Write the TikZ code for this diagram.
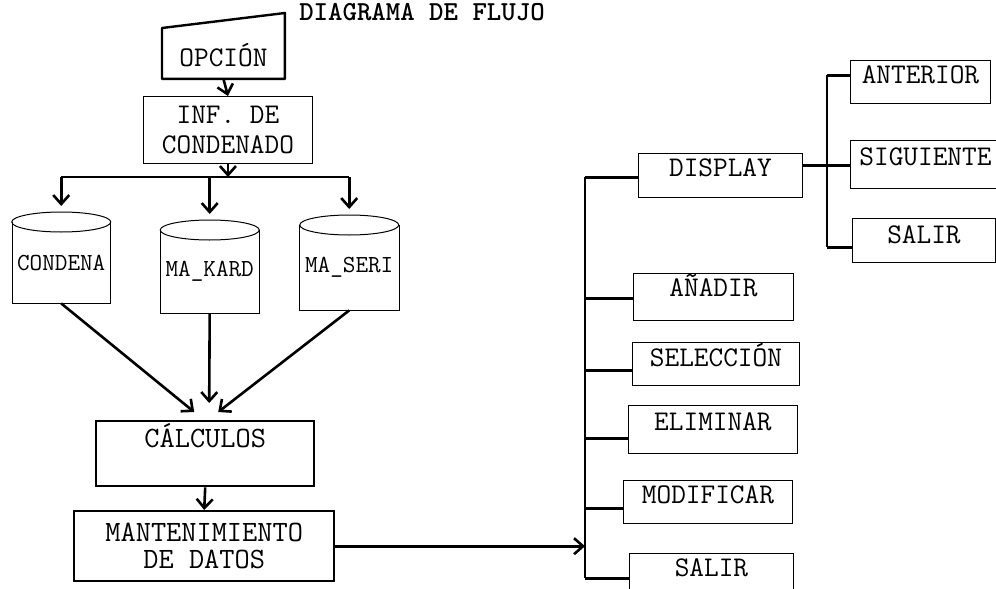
\documentclass[tikz,border=0pt]{standalone}
\usetikzlibrary{arrows.meta}

\begin{document}
\begin{tikzpicture}[x=1pt,y=-1pt,
  box/.style={draw,inner sep=0pt,line width=0.9pt,font=\fontsize{28.5}{30}\selectfont\ttfamily},
  thickbox/.style={box,line width=2.4pt,font=\fontsize{29.5}{27}\selectfont\ttfamily},
  db/.style={inner sep=0pt,font=\fontsize{24.5}{28}\selectfont\ttfamily},
  link/.style={line width=2.6pt},
  arr/.style={link,-{Straight Barb[length=9pt,width=16pt]}}]
\useasboundingbox (0,0) rectangle (996,589);
\node[font=\fontsize{27.5}{30}\selectfont\ttfamily\bfseries,anchor=base] (title) at (422,20) {DIAGRAMA DE FLUJO};
% entrada y lectura
\node[box,draw=none,minimum width=122pt,text height=38pt,text depth=12pt,anchor=north west] (opcion) at (162,28) {OPCIÓN};
\draw[line width=2.4pt,line join=round] (opcion.south west) -- (opcion.north west) -- ([yshift=15pt]opcion.north east) -- (opcion.south east) -- cycle;
\node[box,minimum width=169pt,minimum height=67pt,align=center,anchor=north west] (inf) at (143,96) {INF. DE\\CONDENADO};
\draw[arr] (opcion.south) -- (inf.north);
% archivos
\node[db,minimum width=98pt,minimum height=81pt,anchor=north west] (condena) at (12,222) {CONDENA};
\node[db,minimum width=99pt,minimum height=83pt,anchor=north west] (kard) at (160,230) {MA\_KARD};
\node[db,minimum width=100pt,minimum height=85pt,anchor=north west] (seri) at (299,225) {MA\_SERI};
\foreach \c in {condena,kard,seri}{
  \draw[line width=1pt] (\c.north west) -- (\c.south west) -- (\c.south east) -- (\c.north east);
  \draw[line width=1pt] (\c.north) ellipse [x radius=49.5pt,y radius=10pt];}
\coordinate (bl) at (61,177); \coordinate (br) at (349,177);
\draw[link] (bl) -- (br);
\draw[arr] (inf.south) -- (inf.south |- bl);
\foreach \c in {condena,kard,seri}{\draw[arr] (\c.north |- bl) -- ([yshift=16pt]\c.north);}
% proceso
\node[thickbox,minimum width=218pt,text height=26pt,text depth=39pt,anchor=north west] (calc) at (95,420) {CÁLCULOS};
\draw[arr] (condena.south) -- ([xshift=-11pt,yshift=8pt]calc.north);
\draw[arr] (kard.south) -- ([xshift=4pt,yshift=17pt]calc.north);
\draw[arr] (seri.south) -- ([xshift=13pt,yshift=8pt]calc.north);
\node[thickbox,minimum width=260pt,minimum height=70pt,align=center,anchor=north west] (mant) at (73,510) {MANTENIMIENTO\\DE DATOS};
\draw[arr] (calc.south) -- (mant.north);
% menu
\node[box,minimum width=164pt,text height=23pt,text depth=21pt,anchor=north west] (display) at (638,153) {DISPLAY};
\node[box,minimum width=160pt,text height=23pt,text depth=24pt,anchor=north west] (anadir) at (633,273) {AÑADIR};
\node[box,minimum width=167pt,text height=24pt,text depth=19pt,anchor=north west] (seleccion) at (632,342) {SELECCIÓN};
\node[box,minimum width=169pt,text height=25pt,text depth=23pt,anchor=north west] (eliminar) at (628,405) {ELIMINAR};
\node[box,minimum width=169pt,text height=23pt,text depth=20pt,anchor=north west] (modificar) at (623,480) {MODIFICAR};
\node[box,minimum width=164pt,text height=23pt,text depth=24pt,anchor=north west] (salir) at (629,553) {SALIR};
\coordinate (lt) at (585,177); \coordinate (lb) at (585,578);
\draw[link] (lt) -- (lb);
\draw[arr] (mant.east) -- (mant.east -| lt);
\foreach \n/\d in {display/-2,anadir/-1.5,seleccion/-6.5,eliminar/-9,modificar/-6.5,salir/-1.5}{
  \draw[link] ([yshift=\d pt]\n.west) coordinate (tmp) -- (tmp -| lt);}
% submenu display
\node[box,minimum width=140pt,text height=23pt,text depth=20pt,anchor=north west] (anterior) at (850,60) {ANTERIOR};
\node[box,minimum width=150pt,text height=25pt,text depth=23pt,anchor=north west] (siguiente) at (850,140) {SIGUIENTE};
\node[box,minimum width=143pt,text height=25pt,text depth=19pt,anchor=north west] (salirb) at (852,218) {SALIR};
\coordinate (rt) at (827,75); \coordinate (rb) at (827,247);
\draw[link] (rt) -- (rb);
\draw[link] ([yshift=10pt]display.east) coordinate (tmp) -- (tmp -| rt);
\foreach \n/\d in {anterior/6.5,siguiente/-1,salirb/-7}{
  \draw[link] ([yshift=\d pt]\n.west) coordinate (tmp) -- (tmp -| rt);}
\end{tikzpicture}
\end{document}
